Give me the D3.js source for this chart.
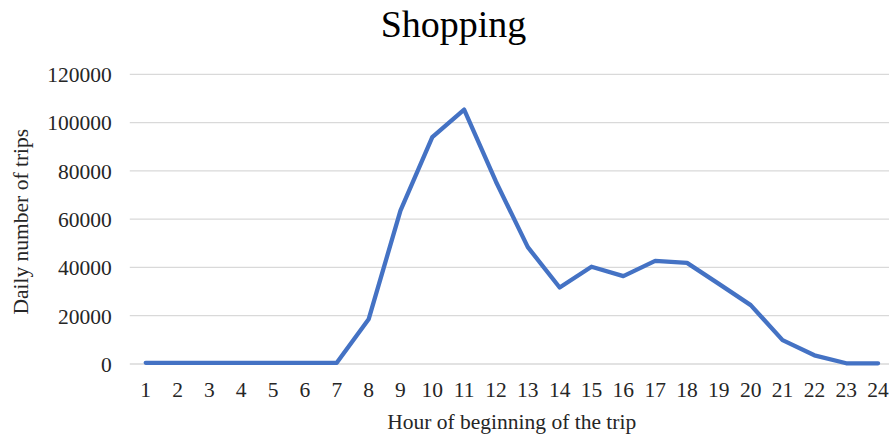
<!DOCTYPE html>
<html>
<head>
<meta charset="utf-8">
<script src="https://cdn.jsdelivr.net/npm/d3@7"></script>
<style>
  html, body { margin: 0; padding: 0; background: #ffffff; }
  svg { display: block; font-family: "Liberation Serif", "Times New Roman", serif; }
</style>
</head>
<body>
<svg id="chart" width="889" height="435"></svg>
<script>
// Hour of the day at which the shopping trip begins
const hours = ["1","2","3","4","5","6","7","8","9","10","11","12",
               "13","14","15","16","17","18","19","20","21","22","23","24"];
// Daily number of shopping trips per starting hour
const trips = [500, 500, 500, 500, 500, 500, 500, 18500, 63500, 94000, 105400, 75500,
               48400, 31700, 40300, 36400, 42700, 41900, 33200, 24400, 9900, 3600, 300, 300];
// Vertical axis ticks
const yTicks = [0, 20000, 40000, 60000, 80000, 100000, 120000];

const svg = d3.select("#chart");
const margin = { left: 129.8, right: 894, top: 74.3, bottom: 364 };

const x = d3.scaleBand().domain(hours).range([margin.left, margin.right]);
const y = d3.scaleLinear().domain([0, 120000]).range([margin.bottom, margin.top]);

// Horizontal gridlines
svg.append("g")
  .selectAll("line")
  .data(yTicks)
  .join("line")
  .attr("x1", margin.left)
  .attr("x2", margin.right)
  .attr("y1", d => y(d))
  .attr("y2", d => y(d))
  .attr("stroke", "#d9d9d9")
  .attr("stroke-width", 1.3);

// Y axis labels
const yAxis = svg.append("g")
  .attr("transform", `translate(${margin.left - 18},0)`)
  .call(d3.axisLeft(y).tickValues(yTicks).tickSize(0).tickPadding(0).tickFormat(d3.format("d")));
yAxis.select(".domain").remove();
yAxis.selectAll("text")
  .attr("font-family", "Liberation Serif, Times New Roman, serif")
  .attr("font-size", 21.5)
  .attr("fill", "#262626")
  .attr("dy", "0.34em");

// X axis labels
const xAxis = svg.append("g")
  .attr("transform", `translate(0,${margin.bottom})`)
  .call(d3.axisBottom(x).tickSize(0).tickPadding(0));
xAxis.select(".domain").remove();
xAxis.selectAll("text")
  .attr("font-family", "Liberation Serif, Times New Roman, serif")
  .attr("font-size", 21.5)
  .attr("fill", "#262626")
  .attr("dy", null)
  .attr("y", 33);

// Trip line
const line = d3.line()
  .x((d, i) => x(hours[i]) + x.bandwidth() / 2)
  .y(d => y(d));

svg.append("path")
  .datum(trips)
  .attr("fill", "none")
  .attr("stroke", "#4472c4")
  .attr("stroke-width", 4.3)
  .attr("stroke-linejoin", "round")
  .attr("stroke-linecap", "round")
  .attr("d", line);

// Title
svg.append("text")
  .attr("x", 453.5)
  .attr("y", 37)
  .attr("text-anchor", "middle")
  .attr("font-size", 38)
  .attr("fill", "#000000")
  .text("Shopping");

// Axis titles
svg.append("text")
  .attr("x", 511.7)
  .attr("y", 429)
  .attr("text-anchor", "middle")
  .attr("font-size", 21.5)
  .attr("fill", "#262626")
  .text("Hour of beginning of the trip");

svg.append("text")
  .attr("transform", "translate(28,221.7) rotate(-90)")
  .attr("text-anchor", "middle")
  .attr("font-size", 21.5)
  .attr("fill", "#262626")
  .text("Daily number of trips");
</script>
</body>
</html>
